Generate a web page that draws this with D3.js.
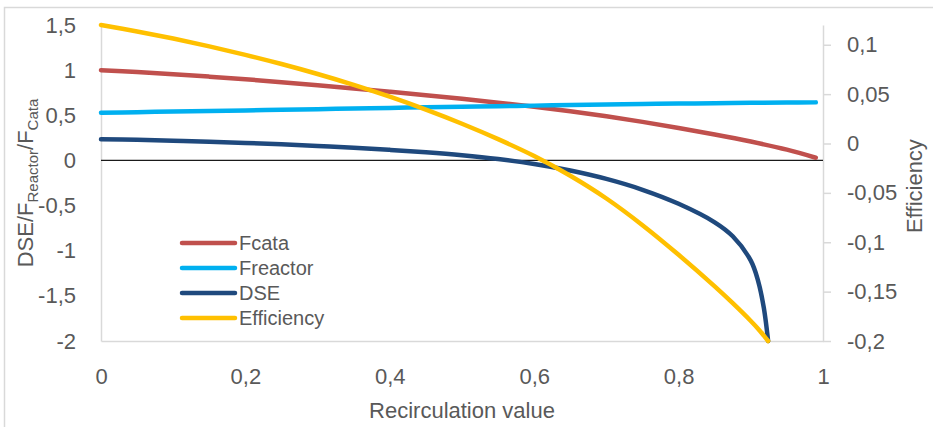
<!DOCTYPE html>
<html>
<head>
<meta charset="utf-8">
<script src="https://cdn.jsdelivr.net/npm/d3@7"></script>
<style>
  html, body { margin: 0; padding: 0; background: #ffffff; }
  svg { display: block; font-family: "Liberation Sans", Arial, sans-serif; }
</style>
</head>
<body>
<svg id="chart" width="933" height="427"></svg>
<script>
// Recirculation values for the Fcata / Freactor series
const recircMain = [0, 0.05, 0.1, 0.15, 0.2, 0.25, 0.3, 0.35, 0.4, 0.45, 0.5,
                    0.55, 0.6, 0.65, 0.7, 0.75, 0.8, 0.85, 0.9, 0.95, 0.99];
const fcata = [1.0, 0.979, 0.955, 0.928, 0.899, 0.867, 0.833, 0.797, 0.760, 0.722, 0.682,
               0.640, 0.595, 0.545, 0.489, 0.427, 0.360, 0.288, 0.209, 0.119, 0.030];
const freactor = [0.528, 0.535, 0.541, 0.548, 0.554, 0.561, 0.568, 0.575, 0.582, 0.588, 0.595,
                  0.601, 0.607, 0.613, 0.619, 0.625, 0.630, 0.634, 0.638, 0.641, 0.643];

// Recirculation values for the DSE / Efficiency series (they stop near 0.924)
const recircDSE = [0, 0.05, 0.1, 0.15, 0.2, 0.25, 0.3, 0.35, 0.4, 0.45, 0.5,
                   0.55, 0.6, 0.65, 0.7, 0.75, 0.8, 0.85, 0.875, 0.9, 0.91, 0.918, 0.924];
const dse = [0.234, 0.228, 0.219, 0.208, 0.194, 0.178, 0.160, 0.141, 0.117, 0.090, 0.057,
             0.015, -0.040, -0.112, -0.205, -0.325, -0.480, -0.685, -0.840, -1.110, -1.330, -1.630, -2.0];
const efficiency = [0.120, 0.1135, 0.1063, 0.0984, 0.0898, 0.0805, 0.0704, 0.0594, 0.0474, 0.0343, 0.0200,
                    0.0044, -0.0127, -0.0327, -0.0557, -0.0827, -0.1127, -0.1447, -0.1617, -0.1797, -0.1875, -0.1945, -0.2];

// Axis ticks
const xTicks = [0, 0.2, 0.4, 0.6, 0.8, 1];
const leftTicks = [-2, -1.5, -1, -0.5, 0, 0.5, 1, 1.5];
const rightTicks = [-0.2, -0.15, -0.1, -0.05, 0, 0.05, 0.1];

const seriesNames = ["Fcata", "Freactor", "DSE", "Efficiency"];
const seriesColors = ["#C0504D", "#00B0F0", "#1F497D", "#FFC000"];

const svg = d3.select("#chart");
const W = 933, H = 427;
const plot = { left: 101, right: 823, top: 25, bottom: 341 };

const x = d3.scaleLinear().domain([0, 1]).range([plot.left, plot.right]);
const yL = d3.scaleLinear().domain([-2, 1.5]).range([plot.bottom, plot.top]);
const yR = d3.scaleLinear().domain([-0.2, 0.12]).range([plot.bottom, plot.top]);

const fmt = d => String(d).replace(".", ",");
const textColor = "#595959";
const axisColor = "#d9d9d9";

// Chart frame
svg.append("rect")
  .attr("x", 4.5).attr("y", 7.5)
  .attr("width", W + 20).attr("height", H + 20)
  .attr("fill", "none").attr("stroke", axisColor).attr("stroke-width", 1.5);

// Left (primary) axis
const gL = svg.append("g")
  .attr("transform", `translate(${plot.left},0)`)
  .call(d3.axisLeft(yL).tickValues(leftTicks).tickFormat(fmt)
        .tickSizeInner(0).tickSizeOuter(0).tickPadding(25));

// Right (secondary) axis
const gR = svg.append("g")
  .attr("transform", `translate(${plot.right},0)`)
  .call(d3.axisRight(yR).tickValues(rightTicks).tickFormat(fmt)
        .tickSizeInner(8).tickSizeOuter(0).tickPadding(16));

// Bottom axis (labels only, gray baseline)
const gB = svg.append("g")
  .attr("transform", `translate(0,${plot.bottom})`)
  .call(d3.axisBottom(x).tickValues(xTicks).tickFormat(fmt)
        .tickSizeInner(0).tickSizeOuter(0).tickPadding(27));

[gL, gR, gB].forEach(g => {
  g.attr("font-family", null).attr("font-size", null);
  g.select(".domain").attr("stroke", axisColor).attr("stroke-width", 1.5);
  g.selectAll(".tick line").attr("stroke", axisColor).attr("stroke-width", 1.5);
  g.selectAll(".tick text").attr("fill", textColor).style("font-size", "22px");
});

// Zero line of the primary axis
svg.append("line")
  .attr("x1", plot.left).attr("x2", plot.right)
  .attr("y1", yL(0)).attr("y2", yL(0))
  .attr("stroke", "#1a1a1a").attr("stroke-width", 1.2);

// Series lines
const mk = (xs, ys, yScale) =>
  d3.line().x((d, i) => x(xs[i])).y(d => yScale(d)).curve(d3.curveCatmullRom.alpha(0.5))(ys);

const series = [
  { xs: recircMain, ys: fcata, y: yL },
  { xs: recircMain, ys: freactor, y: yL },
  { xs: recircDSE, ys: dse, y: yL },
  { xs: recircDSE, ys: efficiency, y: yR }
];
series.forEach((s, i) => {
  svg.append("path")
    .attr("d", mk(s.xs, s.ys, s.y))
    .attr("fill", "none")
    .attr("stroke", seriesColors[i])
    .attr("stroke-width", 4.5)
    .attr("stroke-linecap", "round")
    .attr("stroke-linejoin", "round");
});

// Legend
const legend = svg.append("g").attr("transform", "translate(182,243)");
seriesNames.forEach((name, i) => {
  const row = legend.append("g").attr("transform", `translate(0,${i * 25})`);
  row.append("line")
    .attr("x1", 0).attr("x2", 53).attr("y1", 0).attr("y2", 0)
    .attr("stroke", seriesColors[i]).attr("stroke-width", 4.5)
    .attr("stroke-linecap", "round");
  row.append("text")
    .attr("x", 57).attr("y", 0).attr("dy", "0.35em")
    .attr("fill", textColor).style("font-size", "20px")
    .text(name);
});

// Axis titles
svg.append("text")
  .attr("x", (plot.left + plot.right) / 2).attr("y", 418)
  .attr("text-anchor", "middle")
  .attr("fill", textColor).style("font-size", "22px")
  .text("Recirculation value");

const leftTitle = svg.append("text")
  .attr("transform", "translate(33,183) rotate(-90)")
  .attr("text-anchor", "middle")
  .attr("fill", textColor).style("font-size", "22px");
leftTitle.append("tspan").text("DSE/F");
leftTitle.append("tspan").attr("dy", 5).style("font-size", "15px").text("Reactor");
leftTitle.append("tspan").attr("dy", -5).text("/F");
leftTitle.append("tspan").attr("dy", 5).style("font-size", "15px").text("Cata");

svg.append("text")
  .attr("transform", "translate(922,186) rotate(-90)")
  .attr("text-anchor", "middle")
  .attr("fill", textColor).style("font-size", "22px")
  .text("Efficiency");
</script>
</body>
</html>
